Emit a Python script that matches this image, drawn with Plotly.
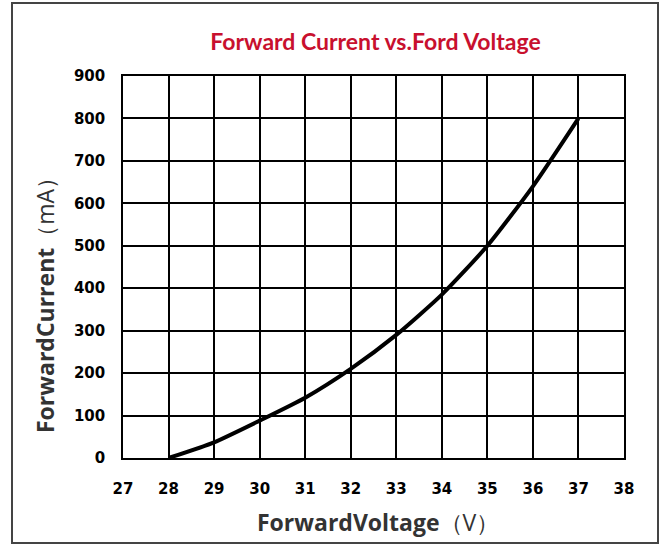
import plotly.graph_objects as go

voltage = [28, 29, 30, 31, 32, 33, 34, 35, 36, 37]
current = [0, 37, 88, 142, 210, 290, 385, 500, 640, 800]
x_ticks = list(range(27, 39))
y_ticks = list(range(0, 901, 100))

title_text = "Forward Current vs.Ford Voltage"
x_title = "ForwardVoltage<span style='font-weight:normal'>（V）</span>"
y_title = "ForwardCurrent<span style='font-weight:normal'>（mA）</span>"

W, H = 663, 545
L, R, T, B = 123, 39, 76, 87
pw, ph = W - L - R, H - T - B

fig = go.Figure()
fig.add_trace(go.Scatter(
    x=voltage, y=current, mode="lines",
    line=dict(color="black", width=4, shape="spline", smoothing=0.6),
    showlegend=False, hoverinfo="skip"))

tick_font = dict(family="DejaVu Sans", size=15, color="black")
title_font = dict(family="Open Sans, Lato, sans-serif", size=23, color="#333333")
fig.update_layout(
    width=W, height=H,
    margin=dict(l=L, r=R, t=T, b=B, autoexpand=False),
    paper_bgcolor="white", plot_bgcolor="white",
    title=dict(text="<b>" + title_text + "</b>", x=(L + pw / 2 + 2) / W, xanchor="center",
               y=1 - 42 / H, yanchor="middle",
               font=dict(family="Lato, Open Sans, sans-serif", size=23, color="#c8102e")),
    xaxis=dict(range=[27, 38], tickvals=x_ticks, ticktext=[f"<b>{v}</b>" for v in x_ticks],
               showgrid=True, gridcolor="black", gridwidth=1.5,
               showline=True, linecolor="black", linewidth=1.5, mirror=True,
               ticks="", ticklabelstandoff=16, tickfont=tick_font, zeroline=False),
    yaxis=dict(range=[0, 900], tickvals=y_ticks, ticktext=[f"<b>{v}</b>" for v in y_ticks],
               showgrid=True, gridcolor="black", gridwidth=1.5,
               showline=True, linecolor="black", linewidth=1.5, mirror=True,
               ticks="", ticklabelstandoff=13, tickfont=tick_font, zeroline=False),
)

fig.add_annotation(text="<b>" + x_title + "</b>", xref="paper", yref="paper",
                   x=(378 - L) / pw, y=(H - B - 522) / ph, xanchor="center", yanchor="middle",
                   showarrow=False, font=title_font)
fig.add_annotation(text="<b>" + y_title + "</b>", xref="paper", yref="paper",
                   x=(45 - L) / pw, y=(H - B - 300) / ph, xanchor="center", yanchor="middle",
                   textangle=-90, showarrow=False, font=title_font)

fig.add_shape(type="rect", xref="paper", yref="paper",
              x0=(12 - L) / pw, x1=(658 - L) / pw,
              y0=(H - B - 543) / ph, y1=(H - B - 3) / ph,
              line=dict(color="#444444", width=2), fillcolor="rgba(0,0,0,0)", layer="below")

fig.write_html("out.html", post_script="document.body.style.margin='0';",
               config={"displayModeBar": False})
